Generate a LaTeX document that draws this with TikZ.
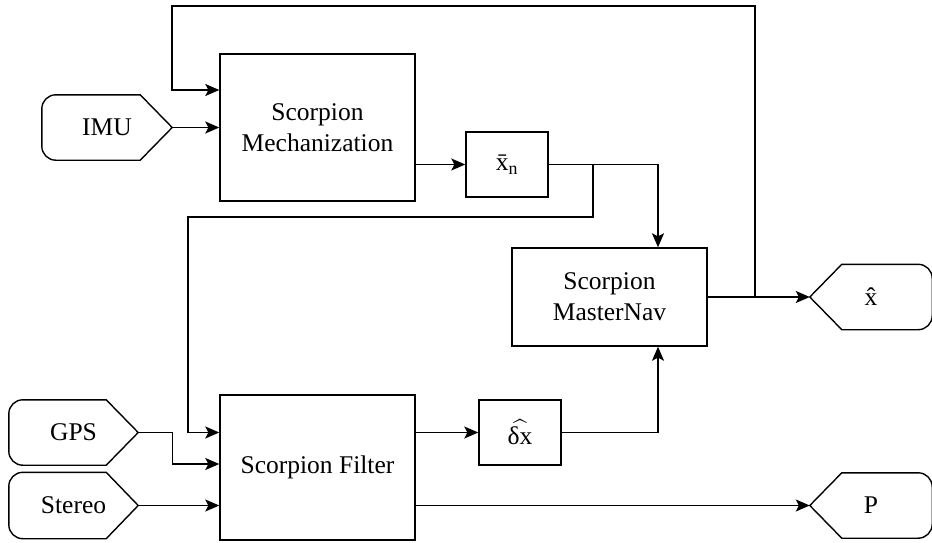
\documentclass[tikz,border=0pt]{standalone}
\usepackage{amsmath}
\usepackage{fontspec}
\setmainfont{Liberation Serif}
\usetikzlibrary{arrows.meta,positioning,calc}

\tikzset{
  block/.style={draw,line width=1.4pt,inner sep=0pt,align=center,minimum width=195pt},
  port/.style={inner sep=0pt,minimum width=130pt,minimum height=65pt},
  sig/.style={line width=1.4pt,-{Stealth[length=14pt,width=12pt,inset=3pt]}},
  wire/.style={line width=1.4pt}
}
% Eingang: links rund, rechts spitz
\newcommand{\inport}[1]{%
  \draw[wire] ([xshift=-32pt]#1.north east) [rounded corners=14pt] -- (#1.north west) -- (#1.south west) [sharp corners] -- ([xshift=-32pt]#1.south east) -- (#1.east) -- cycle;}
% Ausgang: links spitz, rechts rund
\newcommand{\outport}[1]{%
  \draw[wire] ([xshift=32pt]#1.north west) [rounded corners=14pt] -- (#1.north east) -- (#1.south east) [sharp corners] -- ([xshift=32pt]#1.south west) -- (#1.west) -- cycle;}

\begin{document}
\begin{tikzpicture}[x=1pt,y=1pt,yscale=-1,xscale=1,font=\fontsize{25.5}{31}\selectfont]
			\useasboundingbox (0,0) rectangle (932,543);
			% Mechanization
			\node[block,minimum height=147pt] (mech) at (317.5,127.5) {Scorpion\\Mechanization};
			% x bar
			\node[block,minimum width=82pt,minimum height=65pt] (xbar) at (507,164.5) {\={x}\textsubscript{n}};
			% MasterNav
			\node[block,minimum height=98pt] (nav) at (609.5,297) {Scorpion\\MasterNav};
			% Filter
			\node[block,minimum height=145pt] (filt) at (317.5,467.5) {Scorpion Filter};
			% delta x
			\node[block,minimum width=82pt,minimum height=65pt] (dx) at (520,432.5) {$\widehat{\text{δx}}$};

			% IMU
			\node[port] (imu) at (107,127.5) {IMU};
			\inport{imu}
			% GPS
			\node[port,minimum width=129pt] (gps) at (73.5,432.5) {GPS};
			\inport{gps}
			% Stereo
			\node[port,minimum width=129pt,minimum height=66pt] (stereo) at (73.5,505.5) {Stereo};
			\inport{stereo}
			% x hat
			\node[port,minimum width=122pt] (xhat) at (871,297) {\^{x}};
			\outport{xhat}
			% P
			\node[port,minimum width=122pt] (pout) at (871,505.5) {P};
			\outport{pout}

			% Abzweige
			\coordinate (split1) at (755,297);
			\coordinate (split2) at (593,164.5);

			% Pfeile
			\draw[sig] (imu.east) -- (mech.west);
			\draw[sig] (mech.east |- xbar.west) -- (xbar.west);
			\draw[sig] (xbar.east) -| ([xshift=48.5pt]nav.north);
			\draw[sig] (split2) |- (188,217) |- (filt.west |- gps.east);
			\draw[sig] (nav.east) -- (xhat.west);
			\draw[sig] (split1) |- (172,6) |- ([yshift=-37.5pt]mech.west);
			\draw[sig] (gps.east) -- ++(34,0) |- ([yshift=-3.5pt]filt.west);
			\draw[sig] (stereo.east) -- (stereo.east -| filt.west);
			\draw[sig] (filt.east |- dx.west) -- (dx.west);
			\draw[sig] (dx.east) -| ([xshift=48.5pt]nav.south);
			\draw[sig] (filt.east |- pout.west) -- (pout.west);

		\end{tikzpicture}
\end{document}
